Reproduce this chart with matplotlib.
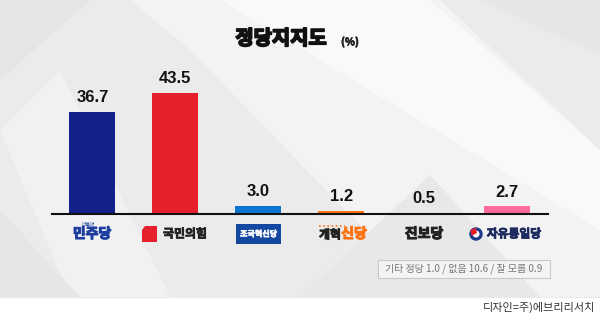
import matplotlib.pyplot as plt
import matplotlib.patheffects as pe
from matplotlib.patches import Polygon, Rectangle, Circle

plt.rcParams['font.family'] = ['Noto Sans CJK KR', 'DejaVu Sans']

parties = ['민주당', '국민의힘', '조국혁신당', '개혁신당', '진보당', '자유통일당']
support = [36.7, 43.5, 3.0, 1.2, 0.5, 2.7]
bar_colors = ['#15218a', '#e61f2d', '#0a74d0', '#ff7212', '#1f7a35', '#ff6b9c']
note_text = '기타 정당 1.0 / 없음 10.6 / 잘 모름 0.9'
credit_text = '디자인=주)에브리리서치'

W, H = 600, 321
fig = plt.figure(figsize=(6, 3.21), dpi=100)
fig.patch.set_facecolor('white')


def heavy(color, w=0.9):
    # fake a heavier weight by stroking the glyphs in their own colour
    return [pe.withStroke(linewidth=w, foreground=color)]


# background panel with soft diagonal shapes
bg = fig.add_axes([0, 0, 1, 1])
bg.set_xlim(0, W)
bg.set_ylim(H, 0)
bg.axis('off')
bg.add_patch(Rectangle((0, 0), W, 297, color='#ebebeb', zorder=0))
shapes = [
    ([(130, 0), (440, 0), (600, 150), (600, 297), (430, 297), (190, 50)], '#f3f3f3'),
    ([(220, 0), (430, 0), (600, 150), (600, 230), (320, 60)], '#f9f9f9'),
    ([(0, 130), (60, 70), (170, 297), (70, 297)], '#f1f1f1'),
    ([(0, 0), (90, 0), (0, 80)], '#e5e5e5'),
    ([(480, 0), (600, 0), (600, 55)], '#e6e6e6'),
    ([(300, 297), (430, 175), (540, 297)], '#e8e8e8'),
    ([(0, 210), (0, 297), (80, 297)], '#e6e6e6'),
]
for pts, c in shapes:
    bg.add_patch(Polygon(pts, closed=True, color=c, zorder=1, lw=0))

# title
bg.text(281, 38, '정당지지도', fontsize=14.3, fontweight='bold', ha='center', va='center',
        color='#111111', path_effects=heavy('#111111', 1.3))
bg.text(350, 42, '(%)', fontsize=7.5, fontweight='bold', ha='center', va='center',
        color='#222222', path_effects=heavy('#222222', 0.5))

# bar chart
ax = fig.add_axes([52 / W, (H - 214) / H, 496 / W, 139 / H])
ax.set_facecolor('none')
x = list(range(len(parties)))
ax.bar(x, support, width=0.555, color=bar_colors, zorder=2)
ax.set_xlim(-0.488, 5.494)
ax.set_ylim(0, 50)
for s in ['top', 'right', 'left']:
    ax.spines[s].set_visible(False)
ax.spines['bottom'].set_linewidth(1.5)
ax.spines['bottom'].set_color('#111111')
ax.set_xticks([])
ax.set_yticks([])
for xi, v in zip(x, support):
    ax.annotate(f'{v:.1f}', (xi, v), xytext=(0, 5), textcoords='offset points',
                ha='center', va='bottom', fontsize=12, fontweight='bold',
                family='Liberation Sans', color='#111111')

# party "logos" as styled text
ly = 234
bg.text(92, ly, '민주당', fontsize=10, fontweight='bold', ha='center', va='center',
        color='#1c3e9e', path_effects=heavy('#1c3e9e', 0.8))
bg.text(88, 224, '더불어', fontsize=3.5, ha='center', va='center', color='#1c3e9e')

bg.add_patch(Polygon([(145, 226), (157, 226), (157, 242), (142, 242), (142, 230)], closed=True,
                     color='#e61f2d', lw=0, zorder=3))
bg.text(185, ly, '국민의힘', fontsize=8.6, fontweight='bold', ha='center', va='center',
        color='#222222', path_effects=heavy('#222222', 0.6))

bg.add_patch(Rectangle((236, 224), 45, 20, color='#1448a0', zorder=3, lw=0))
bg.text(258.5, ly, '조국혁신당', fontsize=5.8, fontweight='bold', ha='center', va='center',
        color='white', zorder=4, path_effects=heavy('white', 0.4))

bg.text(330, ly + 1, '개혁', fontsize=8.5, fontweight='bold', ha='center', va='center',
        color='#222222', path_effects=heavy('#222222', 0.7))
bg.text(354, ly, '신당', fontsize=10, fontweight='bold', ha='center', va='center',
        color='#ff7212', path_effects=heavy('#ff7212', 0.8))
bg.plot([319, 345], [226, 226], ls=(0, (1, 1.5)), lw=1.2, color='#ff7212')

bg.text(424, ly, '진보당', fontsize=10, fontweight='bold', ha='center', va='center',
        color='#222222', path_effects=heavy('#222222', 0.8))

bg.add_patch(Circle((476, 234), 6, color='#1d3a8a', zorder=3))
bg.add_patch(Circle((476, 234), 2.8, color='white', zorder=4))
bg.add_patch(Polygon([(470.5, 229.5), (476, 228), (477, 233), (471.5, 236)], closed=True,
                     color='#e61f2d', zorder=5, lw=0))
bg.text(514, ly, '자유통일당', fontsize=8.5, fontweight='bold', ha='center', va='center',
        color='#1d2a5e', path_effects=heavy('#1d2a5e', 0.6))

# note box
bg.add_patch(Rectangle((378, 260), 172, 18, facecolor='#f4f4f4', edgecolor='#c8c8c8', lw=0.8, zorder=3))
bg.text(464, 269, note_text, fontsize=7.2, ha='center', va='center', color='#777777', zorder=4)

# credit
bg.text(595, 307, credit_text, fontsize=8, ha='right', va='center', color='#333333')

fig.savefig('out.png', dpi=100, facecolor=fig.get_facecolor())
